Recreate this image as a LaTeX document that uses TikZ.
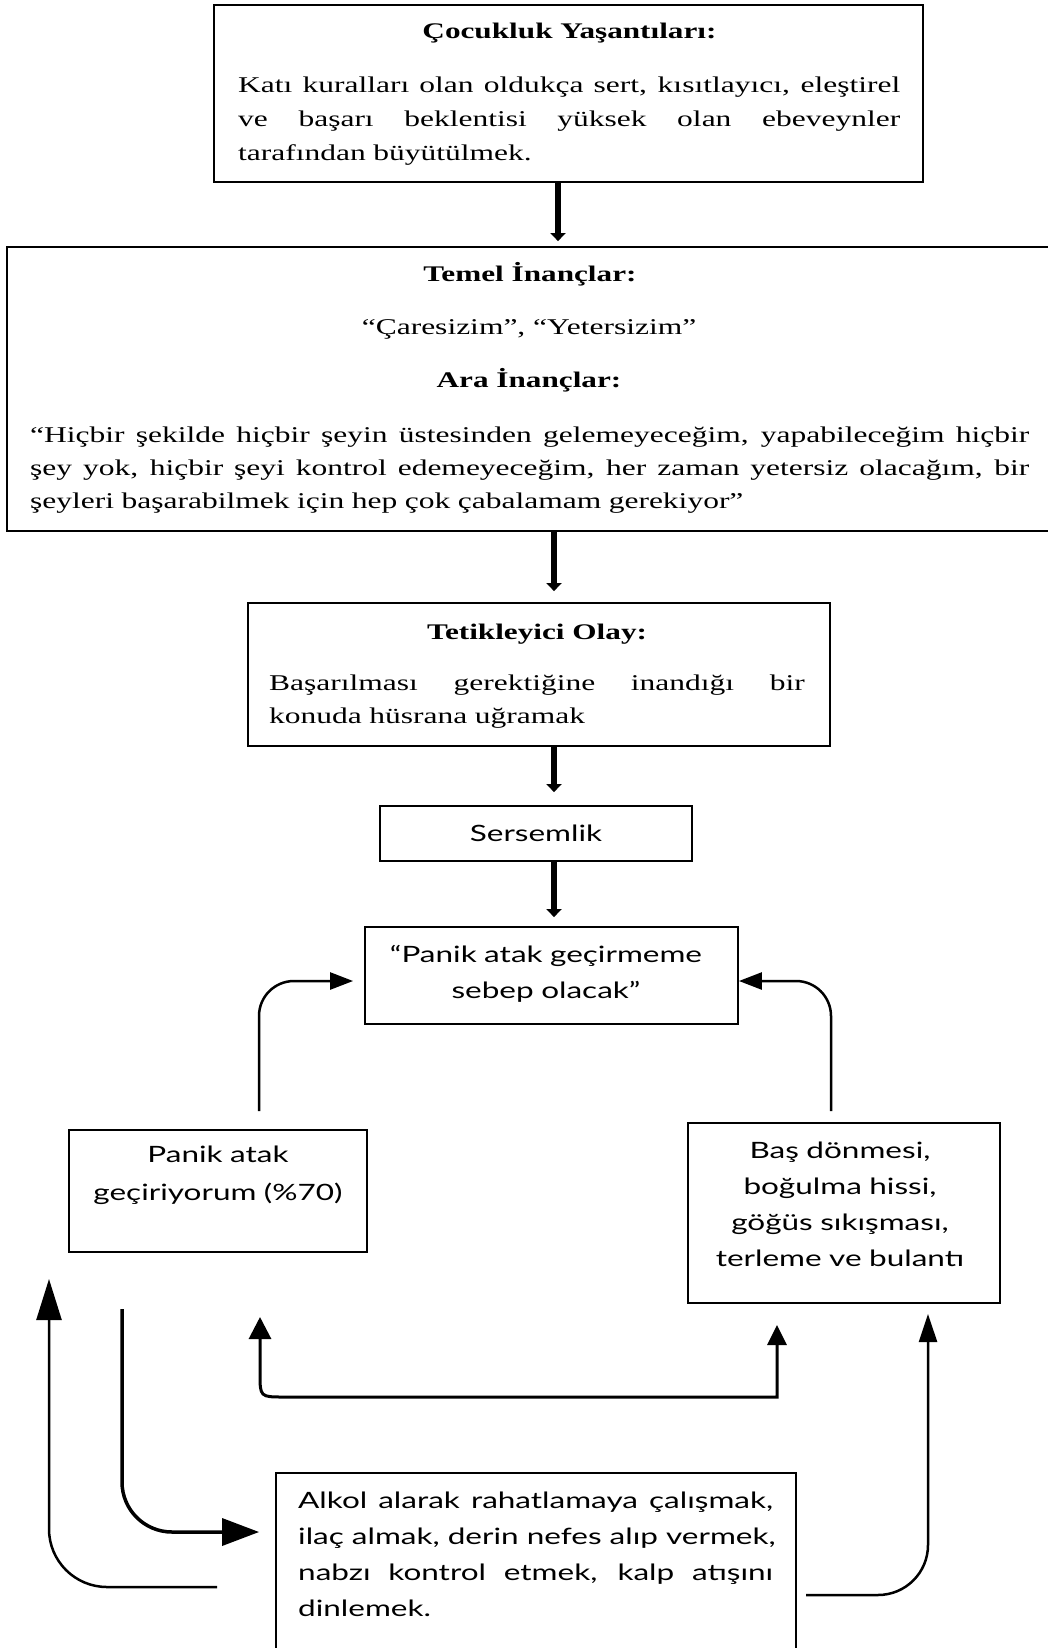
\documentclass[tikz,border=0pt]{standalone}
\usepackage{fontspec}
\setmainfont{Liberation Serif}[FakeStretch=1.4]
\newfontfamily\flowsans{Lato}[FakeStretch=1.4]
\usetikzlibrary{arrows.meta}
% a line of text spread over the given width, the gaps between words growing evenly
\newcommand\spreadline[2]{\makebox[#1][s]{\spaceskip=\fontdimen2\font plus 1fil\relax #2}}

\begin{document}
\begin{tikzpicture}[x=1pt,y=-1pt,
  frame/.style={draw=black, line width=1.8pt, inner sep=0pt},
  head/.style={font=\bfseries\fontsize{22.3}{30}\selectfont, inner sep=0pt, anchor=base},
  serline/.style={font=\fontsize{22.5}{30}\selectfont, inner sep=0pt, anchor=base},
  serpar/.style={font=\fontsize{22.5}{#1}\selectfont, inner sep=0pt, anchor=base west, align=left},
  sansline/.style={font=\flowsans\fontsize{22.5}{30}\selectfont, inner sep=0pt, anchor=base},
  sanspar/.style={font=\flowsans\fontsize{22.5}{#1}\selectfont, inner sep=0pt, anchor=base, align=center},
  spine/.style={line width=6.5pt, -{Triangle[width=15pt,length=8pt]}},
  conn/.style={line width=2.5pt},
  sidearrow/.style={conn, -{Triangle[length=23pt,width=17pt]}, rounded corners=35pt}
]
\useasboundingbox (0,0) rectangle (1047,1648);

% boxes
\node[frame, minimum width=709pt, minimum height=177pt] (b1) at (568.5,93.5) {};
\node[frame, minimum width=1045pt, minimum height=284pt] (b2) at (529.5,389) {};
\node[frame, minimum width=582pt, minimum height=143pt] (b3) at (539,674.5) {};
\node[frame, minimum width=312pt, minimum height=55pt] (b4) at (536,833.5) {};
\node[frame, minimum width=373pt, minimum height=97pt] (b5) at (551.5,975.5) {};
\node[frame, minimum width=298pt, minimum height=122pt] (b6) at (218,1191) {};
\node[frame, minimum width=312pt, minimum height=180pt] (b7) at (844,1213) {};
\node[frame, minimum width=520pt, minimum height=192pt] (b8) at (536,1569) {};

% childhood
\node[head] (h1) at (569.5,39) {Çocukluk Yaşantıları:};
\node[serpar=34, text width=662pt] (p1) at (238,93)
  {\spreadline{662pt}{Katı kuralları olan oldukça sert, kısıtlayıcı, eleştirel}\\
   \spreadline{662pt}{ve başarı beklentisi yüksek olan ebeveynler}\\
   tarafından büyütülmek.};

% beliefs
\node[head] (h2) at (530,281) {Temel İnançlar:};
\node[serline] (q2) at (529,334) {“Çaresizim”, “Yetersizim”};
\node[head] (h3) at (529,387) {Ara İnançlar:};
\node[serpar=33, text width=999pt] (p2) at (30,442)
  {\spreadline{999pt}{“Hiçbir şekilde hiçbir şeyin üstesinden gelemeyeceğim, yapabileceğim hiçbir}\\
   \spreadline{999pt}{şey yok, hiçbir şeyi kontrol edemeyeceğim, her zaman yetersiz olacağım, bir}\\
   şeyleri başarabilmek için hep çok çabalamam gerekiyor”};

% trigger
\node[head] (h4) at (537,639) {Tetikleyici Olay:};
\node[serpar=33, text width=535.5pt] (p3) at (269,690)
  {\spreadline{535.5pt}{Başarılması gerektiğine inandığı bir}\\
   konuda hüsrana uğramak};

% sans boxes
\node[sansline] (s4) at (536,841) {Sersemlik};
\node[sanspar=36, text width=373pt] (s5) at (546,962) {“Panik atak geçirmeme\\ sebep olacak”};
\node[sanspar=38, text width=298pt] (s6) at (218,1162) {Panik atak\\ geçiriyorum (\%70)};
\node[sanspar=36, text width=312pt] (s7) at (840,1158) {Baş dönmesi,\\ boğulma hissi,\\ göğüs sıkışması,\\ terleme ve bulantı};
\node[sanspar=36, text width=475pt, anchor=base west, align=left] (s8) at (298,1508)
  {\spreadline{475pt}{Alkol alarak rahatlamaya çalışmak,}\\
   \spreadline{475pt}{ilaç almak, derin nefes alıp vermek,}\\
   \spreadline{475pt}{nabzı kontrol etmek, kalp atışını}\\
   dinlemek.};

% main chain
\coordinate (x1) at (558,0);
\coordinate (x2) at (554,0);
\draw[spine, shorten >=5pt] (b1.south -| x1) -- (b2.north -| x1);
\draw[spine, shorten >=11pt] (b2.south -| x2) -- (b3.north -| x2);
\draw[spine, shorten >=13pt] (b3.south -| x2) -- (b4.north -| x2);
\draw[spine, shorten >=9pt] (b4.south -| x2) -- (b5.north -| x2);

% feedback into the thought
\coordinate (la) at (259,1111);
\coordinate (ra) at (831,1111);
\draw[sidearrow, shorten >=11pt] (la) |- ([yshift=-5.5pt]b5.west);
\draw[sidearrow] (ra) |- ([yshift=-5.5pt]b5.east);

% lower loops
\coordinate (o1) at (217,1587);
\coordinate (o2) at (49,1279);
\draw[conn, -{Triangle[length=41pt,width=25pt]}, rounded corners=58pt] (o1) -| (o2);

\coordinate (i1) at (122,1309);
\draw[conn, line width=3.5pt, -{Triangle[length=37pt,width=27pt]}, rounded corners=50pt, shorten >=16pt]
  (i1) |- (b8.west |- 0,1532);

\coordinate (u1) at (777,1325);
\coordinate (u2) at (260,1317);
\draw[conn, line width=3pt, {Triangle[length=20pt,width=19pt]}-{Triangle[length=22pt,width=22pt]}]
  (u1) -- (777,1397) -- (284,1397) .. controls (260,1397) .. (260,1373) -- (u2);

\coordinate (r1) at (806,1595);
\coordinate (r2) at (928,1314);
\draw[conn, -{Triangle[length=28pt,width=18pt]}, rounded corners=50pt] (r1) -| (r2);
\end{tikzpicture}
\end{document}
